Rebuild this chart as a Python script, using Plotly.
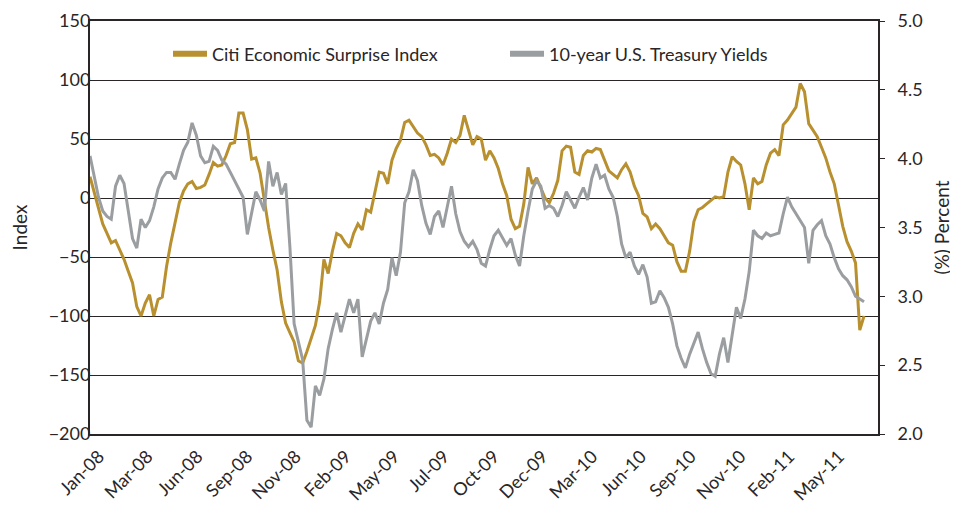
import pandas as pd
import plotly.graph_objects as go

# ---- data (weekly readings, one every 5 weekdays starting 1 Jan 2008) ----
start_date = "2008-01-01"
weekday_step = 5
label_step = 58  # axis labels every 58 weekdays

tick_labels = ["Jan-08", "Mar-08", "Jun-08", "Sep-08", "Nov-08", "Feb-09", "May-09",
               "Jul-09", "Oct-09", "Dec-09", "Mar-10", "Jun-10", "Sep-10", "Nov-10",
               "Feb-11", "May-11"]

citi_surprise = [
    18, 5, -10, -22, -30, -38, -36, -44, -52, -62,
    -72, -92, -100, -89, -82, -100, -86, -84, -58, -38,
    -22, -4, 6, 12, 14, 8, 9, 11, 20, 30,
    27, 28, 36, 46, 47, 72, 72, 58, 33, 34,
    21, -3, -25, -44, -61, -88, -106, -114, -122, -138,
    -140, -130, -118, -108, -88, -52, -64, -45, -30, -32,
    -38, -42, -30, -22, -27, -10, -12, 6, 22, 21,
    12, 32, 42, 49, 64, 66, 60, 55, 52, 45,
    36, 37, 34, 28, 38, 50, 47, 53, 70, 58,
    45, 52, 50, 32, 40, 34, 25, 12, 2, -18,
    -26, -24, -5, 26, 12, 17, 9, 0, -4, 4,
    15, 40, 44, 43, 22, 20, 36, 40, 39, 42,
    41, 32, 23, 20, 17, 24, 29, 22, 10, 2,
    -13, -16, -26, -22, -26, -32, -38, -40, -54, -62,
    -62, -45, -20, -10, -8, -5, -2, 1, 0, 1,
    22, 35, 31, 28, 12, -10, 17, 12, 14, 28,
    38, 41, 36, 62, 66, 71, 77, 97, 90, 63,
    58, 52, 43, 34, 22, 12, -6, -24, -37, -45,
    -55, -112, -100,
]

treasury_10y = [
    4.02, 3.86, 3.72, 3.62, 3.58, 3.56, 3.80, 3.88, 3.82, 3.62,
    3.42, 3.35, 3.56, 3.50, 3.55, 3.65, 3.78, 3.86, 3.90, 3.90,
    3.85, 3.96, 4.06, 4.12, 4.26, 4.17, 4.02, 3.97, 3.98, 4.09,
    4.06, 3.99, 3.96, 3.90, 3.84, 3.77, 3.72, 3.45, 3.62, 3.76,
    3.70, 3.62, 3.98, 3.80, 3.90, 3.74, 3.82, 3.36, 2.80, 2.66,
    2.54, 2.10, 2.05, 2.35, 2.28, 2.40, 2.62, 2.76, 2.88, 2.74,
    2.85, 2.98, 2.88, 2.98, 2.56, 2.70, 2.82, 2.88, 2.80, 2.95,
    3.05, 3.28, 3.15, 3.32, 3.68, 3.76, 3.92, 3.84, 3.66, 3.53,
    3.45, 3.58, 3.62, 3.50, 3.64, 3.80, 3.60, 3.47, 3.40, 3.36,
    3.40, 3.34, 3.24, 3.22, 3.34, 3.44, 3.48, 3.42, 3.37, 3.42,
    3.30, 3.22, 3.44, 3.62, 3.78, 3.84, 3.80, 3.64, 3.66, 3.64,
    3.58, 3.66, 3.76, 3.70, 3.64, 3.72, 3.79, 3.70, 3.86, 3.96,
    3.86, 3.88, 3.78, 3.72, 3.58, 3.38, 3.28, 3.32, 3.22, 3.16,
    3.23, 3.14, 2.95, 2.96, 3.04, 2.99, 2.92, 2.80, 2.64, 2.55,
    2.48, 2.58, 2.66, 2.74, 2.62, 2.52, 2.44, 2.42, 2.58, 2.70,
    2.52, 2.72, 2.92, 2.84, 2.98, 3.18, 3.48, 3.44, 3.42, 3.46,
    3.44, 3.45, 3.46, 3.60, 3.72, 3.65, 3.60, 3.55, 3.50, 3.24,
    3.48, 3.52, 3.55, 3.44, 3.38, 3.28, 3.20, 3.15, 3.12, 3.07,
    3.00, 2.98, 2.96,
]

weekdays = pd.bdate_range(start_date, periods=1000)
dates = weekdays[0:len(citi_surprise) * weekday_step:weekday_step]
tick_dates = weekdays[0:len(tick_labels) * label_step:label_step]
x_range = [weekdays[0], weekdays[927]]

GOLD = "#B8902F"
GRAY = "#9B9EA0"
INK = "#2A2627"
FONT = "Lato"

fig = go.Figure()
fig.add_trace(go.Scatter(x=dates, y=citi_surprise, mode="lines",
                         line=dict(color=GOLD, width=3), showlegend=False,
                         name="Citi Economic Surprise Index"))
fig.add_trace(go.Scatter(x=dates, y=treasury_10y, mode="lines", yaxis="y2",
                         line=dict(color=GRAY, width=3), showlegend=False,
                         name="10-year U.S. Treasury Yields"))
# legend entries (thicker swatches)
fig.add_trace(go.Scatter(x=[None], y=[None], mode="lines",
                         line=dict(color=GOLD, width=6),
                         name="Citi Economic Surprise Index"))
fig.add_trace(go.Scatter(x=[None], y=[None], mode="lines", yaxis="y2",
                         line=dict(color=GRAY, width=6),
                         name="10-year U.S. Treasury Yields"))

# page body adds an 8px offset, so the figure is 950x500
fig.update_layout(
    width=950, height=500,
    margin=dict(l=82, r=80, t=13, b=74),
    paper_bgcolor="white", plot_bgcolor="white",
    font=dict(family=FONT, size=18, color=INK),
    legend=dict(orientation="h", x=0.099, xanchor="left", y=0.92, yanchor="middle",
                font=dict(size=18, color=INK), bgcolor="rgba(0,0,0,0)",
                entrywidth=288, entrywidthmode="pixels",
                itemwidth=34, tracegroupgap=0),
    xaxis=dict(type="date", range=x_range, tickvals=tick_dates, ticktext=tick_labels,
               tickangle=-45, showgrid=False, zeroline=False, automargin=False,
               showline=True, linecolor=INK, linewidth=2, mirror=True,
               ticks="", ticklabelshift=9, ticklabelstandoff=3,
               tickfont=dict(size=18, color=INK)),
    yaxis=dict(range=[-200, 150], dtick=50, tick0=0, showgrid=True, automargin=False,
               gridcolor=INK, gridwidth=1, zeroline=False,
               showline=True, linecolor=INK, linewidth=2, ticks="",
               ticklabelstandoff=-6,
               tickfont=dict(size=18, color=INK),
               title=dict(text="Index", font=dict(size=19, color=INK), standoff=16)),
    yaxis2=dict(range=[2.0, 5.0], dtick=0.5, tick0=2.0, tickformat=".1f",
                overlaying="y", side="right", showgrid=False, zeroline=False,
                automargin=False,
                showline=True, linecolor=INK, linewidth=2,
                ticks="outside", ticklen=5, tickcolor=INK, tickwidth=1,
                ticklabelstandoff=9,
                tickfont=dict(size=18, color=INK),
                title=dict(text="(%) Percent", font=dict(size=19, color=INK), standoff=14)),
)

fig.write_html("out.html")
